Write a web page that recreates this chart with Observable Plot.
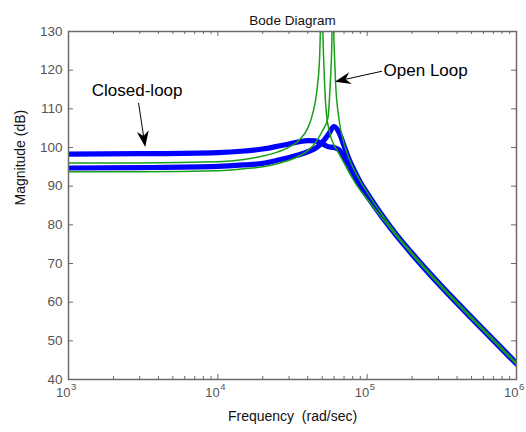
<!DOCTYPE html>
<html>
<head>
<meta charset="utf-8">
<script src="https://cdn.jsdelivr.net/npm/d3@7"></script>
<script src="https://cdn.jsdelivr.net/npm/@observablehq/plot@0.6"></script>
<style>
  html, body { margin: 0; padding: 0; background: #fff; }
  #chart svg { display: block; font-family: "Liberation Sans", Arial, sans-serif; }
</style>
</head>
<body>
<div id="chart"></div>
<script>
// ---- data ----
const titleText = "Bode Diagram";
const xLabel = "Frequency  (rad/sec)";
const yLabel = "Magnitude (dB)";

const xMajorTicks = [1e3, 1e4, 1e5, 1e6];
const xTickBase = ["10", "10", "10", "10"];
const xTickExp = ["3", "4", "5", "6"];
const minorMultipliers = [2, 3, 4, 5, 6, 7, 8, 9];
const minorDecades = [1e3, 1e4, 1e5];
const yTicks = [40, 50, 60, 70, 80, 90, 100, 110, 120, 130];

// Closed-loop (blue, thick)
const closedAFreq = [1e3, 3e3, 1e4, 1.5e4, 2e4, 2.5e4, 3e4, 3.5e4, 4e4, 4.5e4, 5e4, 5.5e4, 6e4, 6.5e4, 7e4, 8e4, 9e4, 1e5, 1.259e5, 1.585e5, 1.995e5, 2.512e5, 3.162e5, 5.623e5, 1e6];
const closedADb   = [98.3, 98.4, 98.7, 99.1, 99.6, 100.3, 100.9, 101.5, 101.8, 101.7, 101.0, 100.2, 100.0, 99.4, 97.4, 93.0, 90.0, 87.4, 82.0, 77.0, 72.4, 68.0, 63.8, 53.8, 44.0];
const closedBFreq = [1e3, 3e3, 1e4, 1.5e4, 2e4, 2.5e4, 3e4, 3.5e4, 4e4, 4.5e4, 5e4, 5.5e4, 6e4, 6.5e4, 7e4, 7.5e4, 8e4, 9e4, 1e5, 1.259e5, 1.585e5, 1.995e5, 2.512e5, 3.162e5, 5.623e5, 1e6];
const closedBDb   = [94.7, 94.8, 95.1, 95.5, 95.9, 96.7, 97.4, 98.1, 98.9, 99.8, 101.3, 103.4, 105.4, 103.8, 100.4, 97.3, 94.9, 91.0, 88.2, 82.5, 77.3, 72.7, 68.3, 64.1, 54.1, 44.2];

// Open loop (green, thin)
const openAFreq = [1e3, 3e3, 1e4, 1.5e4, 2e4, 2.5e4, 3e4, 3.5e4, 4e4, 4.3e4, 4.6e4, 4.8e4, 4.96e4, 5.1e4, 5.3e4, 5.6e4, 6e4, 6.3e4, 7e4, 8.4e4, 1e5, 1.259e5, 1.585e5, 1.995e5, 2.512e5, 3.162e5, 5.623e5, 1e6];
const openADb   = [96.0, 96.0, 96.3, 96.9, 97.8, 98.8, 100.1, 101.9, 105.0, 108.5, 114.5, 123, 140, 124, 110, 104, 100.6, 99.2, 96.0, 90.6, 86.6, 81.7, 76.9, 72.3, 67.9, 63.7, 53.7, 43.9];
const openBFreq = [1e3, 3e3, 1e4, 1.5e4, 2e4, 2.5e4, 3e4, 3.5e4, 4e4, 4.5e4, 5e4, 5.45e4, 5.65e4, 5.8e4, 5.88e4, 6.0e4, 6.15e4, 6.47e4, 7e4, 7.5e4, 8e4, 9e4, 1e5, 1.259e5, 1.585e5, 1.995e5, 2.512e5, 3.162e5, 5.623e5, 1e6];
const openBDb   = [93.7, 93.7, 94.0, 94.5, 95.0, 95.8, 96.7, 97.8, 99.2, 101.2, 104.2, 107.5, 116, 127, 140, 127, 116.5, 107.5, 101.0, 97.5, 95.0, 91.3, 88.4, 82.6, 77.4, 72.8, 68.4, 64.2, 54.2, 44.3];

// annotations
const annoText = ["Closed-loop", "Open Loop"];
const annoFreq = [1432, 1.288e5];
const annoDb = [114.6, 119.8];
const arrowTailFreq = [2968, 1.268e5];
const arrowTailDb = [111.4, 119.6];
const arrowTipFreq = [3289, 6.12e4];
const arrowTipDb = [100.0, 116.9];

// ---- build ----
const W = 526, H = 432;
const mL = 68, mR = 10, mT = 31, mB = 53;
const frameW = W - mL - mR, frameH = H - mT - mB;

const toRows = (f, v) => f.map((x, i) => ({f: x, db: v[i]}));
const closedA = toRows(closedAFreq, closedADb);
const closedB = toRows(closedBFreq, closedBDb);
const openA = toRows(openAFreq, openADb);
const openB = toRows(openBFreq, openBDb);
const minorTicks = minorDecades.flatMap(d => minorMultipliers.map(m => m * d));
const xLabels = xMajorTicks.map((v, i) => ({v, base: xTickBase[i], exp: xTickExp[i]}));
const annos = annoText.map((t, i) => ({t, f: annoFreq[i], db: annoDb[i]}));

const axisColor = "#6b6b6b";
const labelColor = "#555555";
const blue = "#0000ff";
const green = "#18a018";

function arrows(index, scales) {
  const g = d3.create("svg:g");
  for (let i = 0; i < arrowTipFreq.length; i++) {
    const x1 = scales.x(arrowTailFreq[i]), y1 = scales.y(arrowTailDb[i]);
    const x2 = scales.x(arrowTipFreq[i]), y2 = scales.y(arrowTipDb[i]);
    const a = Math.atan2(y2 - y1, x2 - x1);
    const ux = Math.cos(a), uy = Math.sin(a), nx = -uy, ny = ux;
    const L = 16, Wd = 6, notch = 5;
    const bx = x2 - (L - notch) * ux, by = y2 - (L - notch) * uy;
    g.append("line").attr("x1", x1).attr("y1", y1).attr("x2", bx).attr("y2", by)
      .attr("stroke", "#000").attr("stroke-width", 1);
    const pts = [
      [x2, y2],
      [x2 - L * ux + Wd * nx, y2 - L * uy + Wd * ny],
      [bx, by],
      [x2 - L * ux - Wd * nx, y2 - L * uy - Wd * ny]
    ];
    g.append("path").attr("d", "M" + pts.map(p => p.join(",")).join("L") + "Z").attr("fill", "#000");
  }
  return g.node();
}

const chart = Plot.plot({
  width: W,
  height: H,
  marginLeft: mL, marginRight: mR, marginTop: mT, marginBottom: mB,
  style: {fontFamily: "'Liberation Sans', Arial, sans-serif", background: "#fff"},
  x: {type: "log", domain: [1e3, 1e6], axis: null},
  y: {domain: [40, 130], axis: null},
  marks: [
    // closed loop (blue)
    Plot.line(closedA, {x: "f", y: "db", stroke: blue, strokeWidth: 5.2, curve: "monotone-x", clip: true}),
    Plot.line(closedB, {x: "f", y: "db", stroke: blue, strokeWidth: 5.2, curve: "monotone-x", clip: true}),
    // open loop (green)
    Plot.line(openA, {x: "f", y: "db", stroke: green, strokeWidth: 1.5, curve: "monotone-x", clip: true}),
    Plot.line(openB, {x: "f", y: "db", stroke: green, strokeWidth: 1.5, curve: "monotone-x", clip: true}),
    // frame
    Plot.frame({stroke: axisColor, strokeWidth: 1.5}),
    // inward ticks
    Plot.tickX(xMajorTicks, {x: d => d, stroke: axisColor, insetTop: frameH - 5}),
    Plot.tickX(xMajorTicks, {x: d => d, stroke: axisColor, insetBottom: frameH - 5}),
    Plot.tickX(minorTicks, {x: d => d, stroke: axisColor, insetTop: frameH - 3}),
    Plot.tickX(minorTicks, {x: d => d, stroke: axisColor, insetBottom: frameH - 3}),
    Plot.tickY(yTicks, {y: d => d, stroke: axisColor, insetRight: frameW - 5}),
    Plot.tickY(yTicks, {y: d => d, stroke: axisColor, insetLeft: frameW - 5}),
    // y tick labels
    Plot.text(yTicks, {y: d => d, frameAnchor: "left", dx: -6, textAnchor: "end", fontSize: 13.5, fill: labelColor, text: d => String(d)}),
    // x tick labels (10 with superscript exponent)
    Plot.text(xLabels, {x: "v", frameAnchor: "bottom", dy: 17.6, dx: 2, textAnchor: "end", fontSize: 13, fill: labelColor, text: "base"}),
    Plot.text(xLabels, {x: "v", frameAnchor: "bottom", dy: 10, dx: 2.5, textAnchor: "start", fontSize: 9.5, fill: labelColor, text: "exp"}),
    // axis labels & title
    Plot.text([xLabel], {frameAnchor: "bottom", dy: 41.5, fontSize: 14, fill: "#111", text: d => d}),
    Plot.text([yLabel], {frameAnchor: "left", dx: -48, rotate: -90, fontSize: 14, fill: "#111", text: d => d}),
    Plot.text([titleText], {frameAnchor: "top", dy: -16.3, fontSize: 13.5, fill: "#111", text: d => d}),
    // annotations
    Plot.text(annos, {x: "f", y: "db", text: "t", textAnchor: "start", fontSize: 17, fill: "#000"}),
    arrows
  ]
});
document.getElementById("chart").appendChild(chart);
</script>
</body>
</html>
